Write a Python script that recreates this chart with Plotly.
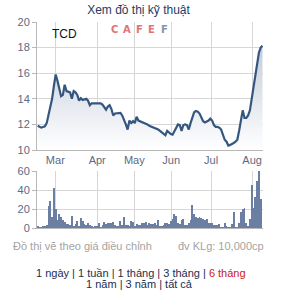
import plotly.graph_objects as go

FONT = "Liberation Sans, Arial, sans-serif"

month_labels = ["Mar", "Apr", "May", "Jun", "Jul", "Aug"]
month_pos = [9.8, 33.1, 53.7, 74.2, 96.4, 119.2]

price = [11.9, 11.8, 11.75, 11.8, 11.85, 12.1, 12.7, 13.4, 14.0, 15.0,
         15.9, 15.4, 14.9, 14.2, 14.3, 15.1, 14.6, 14.55, 14.5, 14.0,
         14.6, 14.5, 14.3, 13.85, 14.05, 13.9, 13.95, 14.0, 13.85, 13.5,
         13.65, 13.65, 13.65, 13.65, 13.65, 13.65, 13.55, 13.3, 13.15, 13.4,
         13.5, 13.2, 12.7, 12.85, 12.85, 12.85, 12.9, 12.7, 12.4, 12.0,
         11.6, 12.3, 12.1, 12.25, 12.1, 12.6, 12.3, 12.25, 12.2, 12.1,
         12.05, 12.0, 11.9, 11.85, 11.8, 11.75, 11.7, 11.6, 11.5, 11.4,
         11.25, 11.15, 11.5, 11.35, 11.25, 11.2, 11.45, 11.8, 12.0, 11.95,
         11.5, 11.95, 12.0, 11.95, 11.6, 12.1, 12.6, 12.95, 13.05, 13.0,
         12.85, 12.5, 12.25, 12.15, 12.2, 12.3, 12.45, 12.3, 11.95, 11.8,
         11.8, 11.75, 11.6, 11.2, 10.8, 10.65, 10.35, 10.4, 10.45, 10.55,
         10.65, 10.8, 11.5, 12.4, 13.1, 12.5, 12.5, 12.7, 13.1, 14.0,
         14.9, 15.6, 16.6, 17.6, 18.0, 18.15]

volume = [1.5, 1, 1, 1.5, 2.5, 3, 23, 28, 12, 42,
          20, 8.5, 14.5, 11.5, 8.5, 6, 4.5, 4.5, 3.5, 12.5,
          2, 4, 7.5, 2, 10.5, 7.5, 4, 3.5, 5.5,
          3, 2, 1, 2, 2, 5, 1, 3, 6, 4,
          5, 5, 5, 6, 3, 2, 2, 7, 3, 12,
          3, 3, 2, 7, 6, 2, 4, 3, 3, 5, 5,
          6, 3, 5, 4, 4, 5, 3, 8, 2, 2,
          3, 5, 5, 4, 7, 10, 15, 13, 5, 4,
          8, 10, 3, 3, 5, 8, 24, 15, 12, 11,
          12, 11, 9, 8, 9, 5, 5, 5, 3, 3,
          3, 4, 1, 1, 5, 2, 1, 1, 4, 17,
          1, 1, 5, 17, 20, 21, 5, 2, 10, 45,
          21, 33, 49, 60, 31]

price_days = list(range(len(price)))
vol_days = list(range(len(volume)))

# pixel helpers (plot area: x 37..263, y 22..228)
L, R, T, B = 37, 263, 22, 228
W, H = 283, 297


def xp(px):
    return (px - L) / (R - L)


def yp(py):
    return (B - py) / (B - T)


fig = go.Figure()

fig.add_trace(go.Scatter(
    x=price_days, y=price, mode="lines",
    line=dict(color="#35577f", width=2.2),
    fill="tozeroy",
    fillgradient=dict(type="vertical", start=10, stop=18.2,
                      colorscale=[[0, "rgba(255,255,255,1)"], [1, "rgba(196,204,218,1)"]]),
    xaxis="x", yaxis="y", hoverinfo="skip", showlegend=False,
))

fig.add_trace(go.Bar(
    x=vol_days, y=volume, width=0.48,
    marker=dict(color="#6a7fa1", line=dict(width=0)),
    xaxis="x2", yaxis="y2", hoverinfo="skip", showlegend=False,
))

grid = "#d6d6d6"
axline = "#b8b8b8"
tickfont = dict(family=FONT, size=11, color="#5a6b85")
xr = [-0.39, 125.28]

fig.update_layout(
    width=W, height=H,
    margin=dict(l=L, r=W - R, t=T, b=H - B, pad=0),
    paper_bgcolor="white", plot_bgcolor="white",
    showlegend=False,
    bargap=0,
    title=dict(text="Xem đồ thị kỹ thuật", x=138.5 / W, xanchor="center",
               y=1 - 10 / H, yanchor="middle", yref="container", xref="container",
               font=dict(family=FONT, size=12, color="#1e3c64")),
    xaxis=dict(domain=[0, 1], anchor="y", range=xr, tickvals=month_pos, ticktext=month_labels,
               showgrid=True, gridcolor=grid, gridwidth=1, showline=True, linecolor=axline,
               ticks="", tickfont=tickfont, zeroline=False, fixedrange=True),
    yaxis=dict(domain=[yp(150), 1], anchor="x", range=[10, 20], dtick=2, tick0=10,
               showgrid=True, gridcolor=grid, showline=True, linecolor=axline,
               ticks="outside", ticklen=4, tickcolor=axline, tickfont=tickfont,
               zeroline=False),
    xaxis2=dict(domain=[0, 1], anchor="y2", range=xr, tickvals=month_pos,
                showticklabels=False, showgrid=True, gridcolor=grid, showline=True,
                linecolor=axline, ticks="", zeroline=False, matches="x"),
    yaxis2=dict(domain=[0, yp(171)], anchor="x2", range=[0, 60], dtick=20, tick0=0,
                showgrid=True, gridcolor=grid, showline=True, linecolor=axline,
                ticks="outside", ticklen=4, tickcolor=axline, tickfont=tickfont,
                zeroline=False),
)

ann = []
ann.append(dict(text="TCD", x=xp(50), y=yp(34), xref="paper", yref="paper",
                xanchor="left", yanchor="middle", showarrow=False,
                font=dict(family=FONT, size=12, color="#111111")))

logo_letters = ["C", "A", "F", "E", "F"]
logo_cols = ["#e07474", "#e07474", "#e07474", "#e07474", "#8294b0"]
logo_x = [114, 126.5, 139, 151.5, 164]
for ch, col, lx in zip(logo_letters, logo_cols, logo_x):
    ann.append(dict(text="<b>" + ch + "</b>", x=xp(lx), y=yp(29.7), xref="paper", yref="paper",
                    xanchor="center", yanchor="middle", showarrow=False,
                    font=dict(family="DejaVu Sans, sans-serif", size=10, color=col)))

ann.append(dict(text="Đồ thị vẽ theo giá điều chỉnh", x=xp(11), y=yp(245.5),
                xref="paper", yref="paper", xanchor="left", yanchor="middle", showarrow=False,
                font=dict(family=FONT, size=11, color="#a3a3a3")))
ann.append(dict(text="đv KLg: 10,000cp", x=xp(266), y=yp(245.5),
                xref="paper", yref="paper", xanchor="right", yanchor="middle", showarrow=False,
                font=dict(family=FONT, size=11, color="#a3a3a3")))
ann.append(dict(text="1 ngày | 1 tuần | 1 tháng | 3 tháng | <span style='color:#cc2020'>6 tháng</span>",
                x=xp(140.5), y=yp(273.3), xref="paper", yref="paper", xanchor="center",
                yanchor="middle", showarrow=False,
                font=dict(family=FONT, size=11, color="#1a3050")))
ann.append(dict(text="1 năm | 3 năm | tất cả",
                x=xp(139.5), y=yp(283.8), xref="paper", yref="paper", xanchor="center",
                yanchor="middle", showarrow=False,
                font=dict(family=FONT, size=11, color="#1a3050")))
fig.update_layout(annotations=ann)

fig.write_html("out.html", config={"displayModeBar": False})
